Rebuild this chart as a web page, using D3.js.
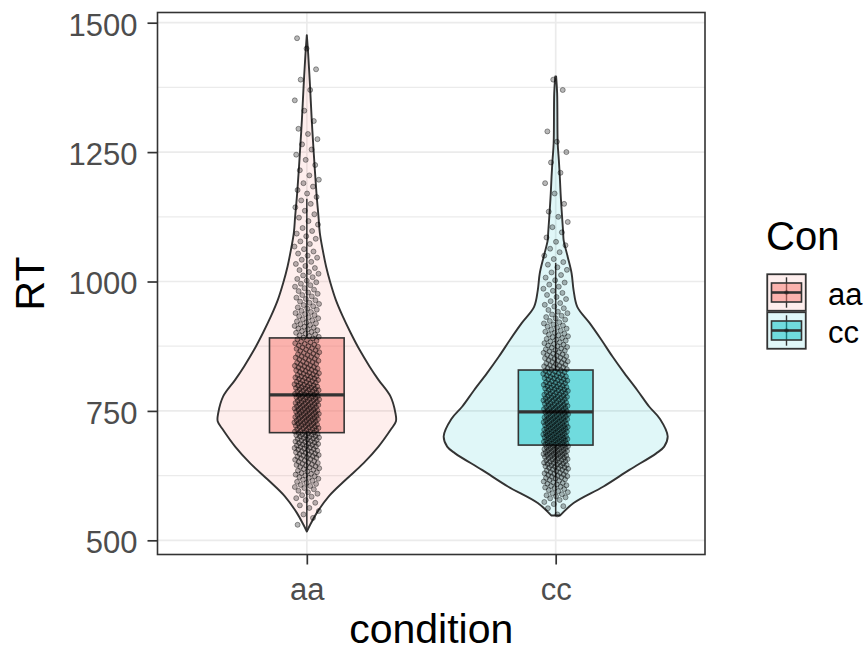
<!DOCTYPE html>
<html><head><meta charset="utf-8">
<script src="https://cdn.jsdelivr.net/npm/d3@7"></script>
<style>
body{margin:0;background:#fff;}
text{font-family:"Liberation Sans", Arial, Helvetica, sans-serif;}
</style>
</head><body>
<svg id="chart" width="868" height="652"></svg>
<script>
// ---------------- data ----------------
const categories = ["aa", "cc"];
const fillColors = ["#F8766D", "#00BFC4"];
const yTicks = [500, 750, 1000, 1250, 1500];
const yMinorTicks = [625, 875, 1125, 1375];
const xTitle = "condition";
const yTitle = "RT";
const legendTitle = "Con";

// jittered RT points, as counts per 20 ms bin
const binWidth = 20;
const aaBinStart = 500;
const aaCounts = [0,1,3,4,7,10,13,16,19,21,23,25,25,24,23,20,18,16,15,13,12,10,9,8,7,6,5,5,4,4,3,3,3,3,3,2,2,2,2,2,1,1,1,1,1,1,0,1,1];
const ccBinStart = 540;
const ccCounts = [1,5,10,14,18,23,28,30,29,28,26,24,22,20,18,16,14,12,10,8,6,5,5,4,4,3,3,2,2,2,1,1,1,1,1,1,1,1,0,0,0,1,1];

// violin outline: [RT, relative density]
const aaViolin = [[517,0],[530,0.03],[553,0.089],[585,0.196],[617,0.347],[649,0.507],[681,0.64],[713,0.747],[730,0.796],[746,0.791],[778,0.747],[810,0.64],[836,0.56],[868,0.471],[901,0.391],[933,0.32],[965,0.258],[997,0.211],[1029,0.172],[1061,0.142],[1094,0.116],[1126,0.104],[1171,0.086],[1248,0.062],[1312,0.044],[1376,0.029],[1440,0.012],[1476,0]];
const ccViolin = [[548,0.04],[572,0.16],[604,0.427],[636,0.658],[668,0.898],[681,0.969],[701,1.0],[734,0.933],[758,0.836],[790,0.729],[823,0.613],[855,0.507],[887,0.409],[920,0.302],[951,0.193],[983,0.16],[1016,0.142],[1048,0.107],[1080,0.071],[1094,0.067],[1138,0.053],[1170,0.044],[1202,0.037],[1235,0.028],[1267,0.018],[1364,0.013],[1396,0.004]];

// boxplot stats: [lower whisker, Q1, median, Q3, upper whisker]
const aaBox = [517, 708, 781, 891, 1160];
const ccBox = [547, 684, 748, 829, 1036];

// ---------------- layout ----------------
const svg = d3.select("#chart");
const panel = {left: 157.5, right: 705, top: 12.5, bottom: 554.5};
const x = d3.scalePoint().domain(categories).range([panel.left, panel.right]).padding(0.6);
const step = x.step();
const y = d3.scaleLinear().domain([472.6, 1519.7]).range([panel.bottom, panel.top]);
const w = d3.scaleLinear().domain([0, 1]).range([0, 0.45 * step]);
const color = d3.scaleOrdinal().domain(categories).range(fillColors);
const ink = "#333333";

svg.append("rect").attr("width", 868).attr("height", 652).attr("fill", "#fff");

// grid
const grid = svg.append("g");
grid.selectAll(".minor").data(yMinorTicks).join("line")
  .attr("x1", panel.left).attr("x2", panel.right)
  .attr("y1", d => y(d)).attr("y2", d => y(d))
  .attr("stroke", "#EBEBEB").attr("stroke-width", 1.2);
grid.selectAll(".major").data(yTicks).join("line")
  .attr("x1", panel.left).attr("x2", panel.right)
  .attr("y1", d => y(d)).attr("y2", d => y(d))
  .attr("stroke", "#EBEBEB").attr("stroke-width", 1.7);
grid.selectAll(".vmajor").data(categories).join("line")
  .attr("x1", d => x(d)).attr("x2", d => x(d))
  .attr("y1", panel.top).attr("y2", panel.bottom)
  .attr("stroke", "#EBEBEB").attr("stroke-width", 1.7);

const groups = [
  {cat: "aa", violin: aaViolin, box: aaBox, start: aaBinStart, counts: aaCounts, phase: 0.13},
  {cat: "cc", violin: ccViolin, box: ccBox, start: ccBinStart, counts: ccCounts, phase: 0.57}
];

// violins
groups.forEach(g => {
  const xc = x(g.cat);
  const area = d3.area()
    .y(d => y(d[0]))
    .x0(d => xc - w(d[1]))
    .x1(d => xc + w(d[1]))
    .curve(d3.curveCatmullRom);
  svg.append("path").datum(g.violin).attr("d", area)
    .attr("fill", color(g.cat)).attr("fill-opacity", 0.12)
    .attr("stroke", ink).attr("stroke-width", 1.9).attr("stroke-linejoin", "round");
});

// boxplots
const boxHalf = 0.15 * step;
groups.forEach(g => {
  const xc = x(g.cat);
  const [lo, q1, med, q3, hi] = g.box;
  const gb = svg.append("g");
  gb.append("line").attr("x1", xc).attr("x2", xc).attr("y1", y(q3)).attr("y2", y(hi))
    .attr("stroke", ink).attr("stroke-width", 1.5);
  gb.append("line").attr("x1", xc).attr("x2", xc).attr("y1", y(q1)).attr("y2", y(lo))
    .attr("stroke", ink).attr("stroke-width", 1.5);
  gb.append("rect").attr("x", xc - boxHalf).attr("width", 2 * boxHalf)
    .attr("y", y(q3)).attr("height", y(q1) - y(q3))
    .attr("fill", color(g.cat)).attr("fill-opacity", 0.5)
    .attr("stroke", ink).attr("stroke-width", 1.6);
  gb.append("line").attr("x1", xc - boxHalf).attr("x2", xc + boxHalf)
    .attr("y1", y(med)).attr("y2", y(med))
    .attr("stroke", ink).attr("stroke-width", 3.2);
});

// jittered points
const jitter = 0.05 * step;
groups.forEach(g => {
  const xc = x(g.cat);
  const pts = [];
  let k = 0;
  g.counts.forEach((n, i) => {
    for (let j = 0; j < n; j++) {
      const v = g.start + binWidth * i + binWidth * (j + 0.5) / n;
      const f = (k * 0.6180339887 + g.phase) % 1;
      pts.push({v: v, dx: (f * 2 - 1) * jitter});
      k++;
    }
  });
  svg.append("g").selectAll("circle").data(pts).join("circle")
    .attr("cx", d => xc + d.dx).attr("cy", d => y(d.v)).attr("r", 2.5)
    .attr("fill", "#000").attr("fill-opacity", 0.28)
    .attr("stroke", "#000").attr("stroke-opacity", 0.42).attr("stroke-width", 0.9);
});

// panel border
svg.append("rect").attr("x", panel.left).attr("y", panel.top)
  .attr("width", panel.right - panel.left).attr("height", panel.bottom - panel.top)
  .attr("fill", "none").attr("stroke", ink).attr("stroke-width", 1.6);

// axes
const yAxis = svg.append("g").attr("transform", `translate(${panel.left},0)`)
  .call(d3.axisLeft(y).tickValues(yTicks).tickFormat(d3.format("d")).tickSize(10).tickPadding(10));
const xAxis = svg.append("g").attr("transform", `translate(0,${panel.bottom})`)
  .call(d3.axisBottom(x).tickSize(10).tickPadding(13));
[yAxis, xAxis].forEach(a => {
  a.select(".domain").remove();
  a.selectAll(".tick line").attr("stroke", ink).attr("stroke-width", 1.7);
  a.selectAll(".tick text").attr("fill", "#4D4D4D").style("font-size", "31px")
    .style("font-family", '"Liberation Sans", Arial, sans-serif');
});
yAxis.selectAll(".tick text").attr("dy", "0.4em");

// axis titles
svg.append("text").attr("x", (panel.left + panel.right) / 2).attr("y", 643)
  .attr("text-anchor", "middle").style("font-size", "41px").attr("fill", "#000").text(xTitle);
svg.append("text").attr("transform", `translate(44,${(panel.top + panel.bottom) / 2}) rotate(-90)`)
  .attr("text-anchor", "middle").style("font-size", "41px").attr("fill", "#000").text(yTitle);

// legend
const leg = svg.append("g");
leg.append("text").attr("x", 766).attr("y", 250).style("font-size", "40px").attr("fill", "#000").text(legendTitle);
const keyW = 40, keyH = 38, keyX = 766.5, keyY0 = 273.5;
categories.forEach((c, i) => {
  const ky = keyY0 + i * keyH;
  const kg = leg.append("g").attr("transform", `translate(${keyX},${ky})`);
  kg.append("rect").attr("x", 0.75).attr("y", 0.75).attr("width", keyW - 1.5).attr("height", keyH - 1.5)
    .attr("fill", color(c)).attr("fill-opacity", 0.12)
    .attr("stroke", ink).attr("stroke-width", 1.8);
  kg.append("line").attr("x1", keyW / 2).attr("x2", keyW / 2).attr("y1", keyH * 0.1).attr("y2", keyH * 0.9)
    .attr("stroke", ink).attr("stroke-width", 1.4);
  kg.append("rect").attr("x", keyW * 0.125).attr("width", keyW * 0.75)
    .attr("y", keyH * 0.25).attr("height", keyH * 0.5)
    .attr("fill", color(c)).attr("fill-opacity", 0.5)
    .attr("stroke", ink).attr("stroke-width", 1.6);
  kg.append("line").attr("x1", keyW * 0.125).attr("x2", keyW * 0.875).attr("y1", keyH / 2).attr("y2", keyH / 2)
    .attr("stroke", ink).attr("stroke-width", 2.6);
  kg.append("circle").attr("cx", keyW / 2).attr("cy", keyH / 2).attr("r", 2.3)
    .attr("fill", "#000").attr("fill-opacity", 0.3);
  leg.append("text").attr("x", 828).attr("y", ky + keyH / 2 + 12)
    .style("font-size", "31px").attr("fill", "#000").text(c);
});
</script>
</body></html>
